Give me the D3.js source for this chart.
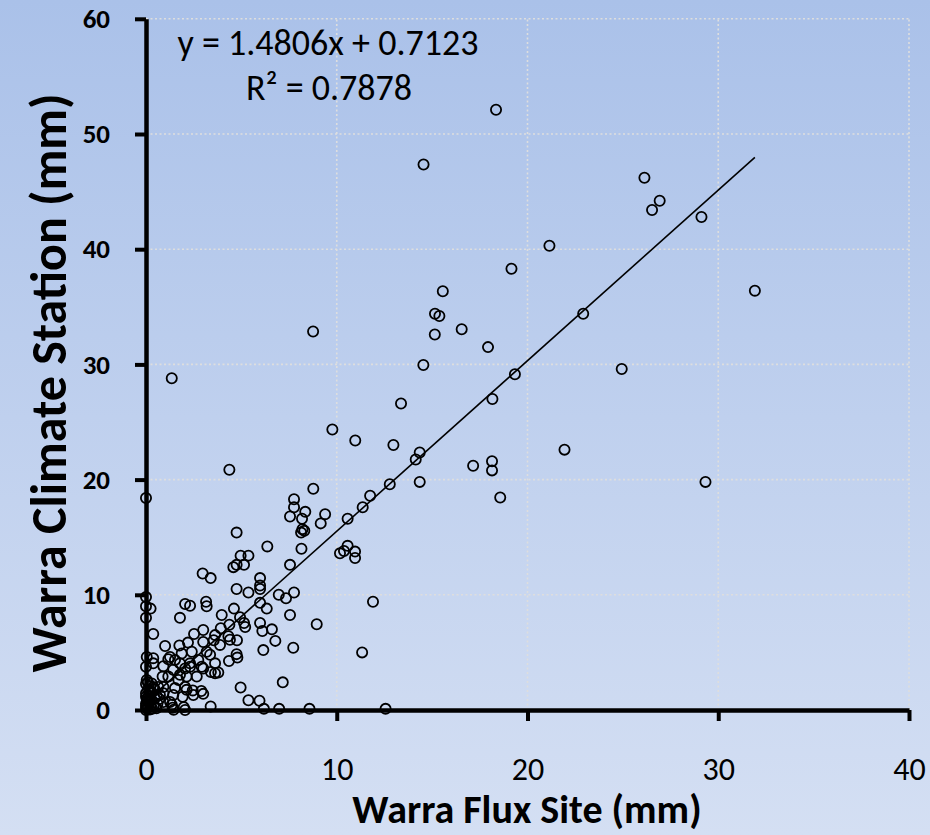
<!DOCTYPE html>
<html>
<head>
<meta charset="utf-8">
<script src="https://cdn.jsdelivr.net/npm/d3@7"></script>
<style>
  html, body { margin: 0; padding: 0; }
  body { width: 930px; height: 835px; overflow: hidden; }
  text { font-family: Carlito, Calibri, Lato, sans-serif; }
</style>
</head>
<body>
<svg id="chart" width="930" height="835"></svg>
<script>
// ---- Data ----
const titleText = "Daily";
const xAxisTitle = "Warra Flux Site (mm)";
const yAxisTitle = "Warra Climate Station (mm)";
const equationText = "y = 1.4806x + 0.7123";
const rSquaredText = "R\u00B2 = 0.7878";
const trendSlope = 1.4806;
const trendIntercept = 0.7123;
const xTicks = [0, 10, 20, 30, 40];
const yTicks = [0, 10, 20, 30, 40, 50, 60];

const fluxSite = [
  18.35, 14.55, 26.13, 26.93, 26.53, 29.12, 21.15, 19.16, 31.92, 15.56,
  15.15, 15.38, 22.92, 16.55, 8.76, 15.14, 17.93, 14.54, 24.94, 19.34,
  1.35, 18.16, 13.37, 9.77, 10.97, 12.97, 21.94, 14.35, 14.14, 17.15,
  18.14, 18.14, 4.37, 29.33, 14.35, 12.78, 8.77, 11.75, 18.57, 0.0,
  7.76, 7.76, 11.36, 8.35, 9.39, 7.55, 8.18, 10.57, 9.16, 8.2,
  8.3, 8.13, 4.75, 6.36, 10.57, 8.15, 10.38, 10.96, 10.17, 4.96,
  5.37, 10.96, 5.14, 4.75, 7.55, 4.58, 2.97, 3.39, 5.98, 5.98,
  5.98, 4.75, 5.37, 7.76, 6.96, 7.34, 0.0, 0.0, 0.24, 0.0,
  2.05, 2.31, 3.15, 3.18, 1.78, 4.61, 5.98, 6.33, 3.97, 4.93,
  7.55, 5.14, 5.2, 5.98, 6.1, 6.6, 8.95, 4.37, 3.0, 2.52,
  0.38, 7.72, 6.78, 6.15, 1.0, 4.32, 4.4, 4.77, 3.55, 3.0,
  2.2, 1.75, 3.18, 3.36, 4.75, 4.79, 4.35, 3.62, 3.79, 3.4,
  3.0, 2.74, 2.31, 2.05, 1.78, 1.52, 1.26, 1.17, 0.38, 0.38,
  0.91, 1.43, 1.78, 2.13, 2.66, 2.05, 2.13, 2.45, 1.92, 3.0,
  1.43, 0.91, 0.87, 0.73, 0.38, 4.96, 5.37, 5.95, 7.17, 1.35,
  1.4, 1.98, 3.39, 6.18, 6.98, 8.57, 12.56, 1.26, 0.91, 0.04,
  11.33, 11.9, 3.62, 3.88, 1.87, 2.4, 3.62, 2.92, 2.31, 0.04,
  0.0, 1.17, 1.7, 1.52, 2.9, 2.48, 0.91, 0.64, 1.45, 2.05,
  3.92, 0.0, 0.05, 0.1, 0.2, 0.25, 0.0, 0.12, 0.3, 0.05,
  0.15, 0.0, 0.3, 0.1, 0.22, 0.0, 0.4, 0.45, 0.55, 0.6,
  0.32, 0.0, 0.05, 0.2, 0.45, 0.1, 0.0, 0.3, 0.55, 0.7,
  0.02
];
const climateStation = [
  52.1, 47.35, 46.2, 44.2, 43.4, 42.8, 40.3, 38.3, 36.4, 36.35,
  34.4, 34.2, 34.4, 33.05, 32.85, 32.6, 31.5, 29.95, 29.6, 29.15,
  28.8, 27.0, 26.6, 24.35, 23.4, 23.0, 22.6, 22.35, 21.75, 21.2,
  21.6, 20.8, 20.85, 19.8, 19.8, 19.6, 19.2, 18.6, 18.45, 18.4,
  18.3, 17.6, 17.6, 17.2, 17.0, 16.8, 16.6, 16.6, 16.2, 15.7,
  15.55, 15.4, 15.4, 14.2, 14.25, 14.0, 13.8, 13.75, 13.6, 13.4,
  13.4, 13.2, 12.6, 12.6, 12.6, 12.4, 11.85, 11.45, 11.45, 10.8,
  10.5, 10.5, 10.2, 10.2, 10.0, 9.7, 9.8, 9.0, 8.8, 8.0,
  9.2, 9.05, 9.4, 9.0, 8.0, 8.8, 9.3, 8.8, 8.25, 8.05,
  8.25, 7.55, 7.2, 7.55, 6.85, 7.0, 7.45, 7.4, 6.95, 6.6,
  6.6, 5.4, 6.0, 5.2, 5.55, 6.4, 6.1, 6.05, 6.05, 5.9,
  5.85, 5.6, 5.05, 4.8, 4.85, 4.55, 4.25, 3.2, 3.25, 3.3,
  3.6, 4.35, 3.75, 3.6, 4.05, 4.35, 4.6, 4.4, 4.5, 4.05,
  3.8, 3.5, 3.05, 2.9, 2.9, 2.0, 1.75, 1.7, 1.15, 1.4,
  1.3, 2.0, 2.9, 1.3, 2.0, 1.95, 0.85, 0.8, 2.4, 0.45,
  0.2, 0.25, 0.3, 0.1, 0.1, 0.1, 0.1, 0.7, 0.7, 2.6,
  5.0, 9.4, 6.5, 5.65, 4.9, 5.05, 4.05, 3.75, 4.05, 4.6,
  3.75, 2.9, 2.6, 1.9, 1.65, 1.3, 1.45, 2.0, 0.02, 0.0,
  7.1, 0.0, 0.1, 0.25, 0.05, 0.4, 0.55, 0.7, 0.85, 1.0,
  1.2, 1.45, 1.55, 1.75, 2.05, 2.25, 0.35, 1.0, 0.15, 0.55,
  0.1, 0.25, 0.8, 1.6, 1.8, 2.4, 1.15, 2.3, 1.25, 0.95,
  0.4
];

// ---- Layout ----
const W = 930, H = 835;
const svg = d3.select("#chart");
const x = d3.scaleLinear().domain([0, 40]).range([146, 909]);
const y = d3.scaleLinear().domain([0, 60]).range([710, 18.8]);

// background gradient
const defs = svg.append("defs");
const grad = defs.append("linearGradient").attr("id", "bg")
  .attr("x1", 0).attr("y1", 0).attr("x2", 0).attr("y2", 1);
grad.append("stop").attr("offset", "0%").attr("stop-color", "#aac1e9");
grad.append("stop").attr("offset", "100%").attr("stop-color", "#d4dff3");
svg.append("rect").attr("width", W).attr("height", H).attr("fill", "url(#bg)");

// title (mostly above the visible area, as in the reference)
svg.append("text")
  .attr("x", 465).attr("y", -6)
  .attr("text-anchor", "middle")
  .attr("font-size", 40).attr("font-weight", "bold")
  .attr("fill", "#000")
  .text(titleText);

// gridlines
const grid = svg.append("g").attr("class", "grid");
grid.selectAll("line.h").data(yTicks.filter(d => d > 0)).join("line")
  .attr("x1", x(0)).attr("x2", x(40))
  .attr("y1", d => y(d)).attr("y2", d => y(d))
  .attr("stroke", "#dedede").attr("stroke-width", 1.6)
  .attr("stroke-dasharray", "2,2.5");
grid.selectAll("line.v").data(xTicks.filter(d => d > 0)).join("line")
  .attr("y1", y(0)).attr("y2", y(60))
  .attr("x1", d => x(d)).attr("x2", d => x(d))
  .attr("stroke", "#dedede").attr("stroke-width", 1.6)
  .attr("stroke-dasharray", "2,2.5");

// axes
const xAxis = d3.axisBottom(x).tickValues(xTicks).tickSize(11).tickSizeOuter(0).tickPadding(36);
const yAxis = d3.axisLeft(y).tickValues(yTicks).tickSize(11).tickSizeOuter(0).tickPadding(25);

const gx = svg.append("g").attr("transform", `translate(0,${y(0)})`).call(xAxis);
gx.select(".domain").attr("stroke", "#000").attr("stroke-width", 4.5);
gx.selectAll(".tick line").attr("stroke", "#000").attr("stroke-width", 4);
gx.selectAll(".tick text").attr("font-size", 32).attr("fill", "#000")
  .attr("font-family", "Carlito, Calibri, Lato, sans-serif");

const gy = svg.append("g").attr("transform", `translate(${x(0)},0)`).call(yAxis);
gy.select(".domain").attr("stroke", "#000").attr("stroke-width", 4.5);
gy.selectAll(".tick line").attr("stroke", "#000").attr("stroke-width", 4);
gy.selectAll(".tick text").attr("font-size", 27).attr("font-weight", "bold").attr("fill", "#000")
  .attr("font-family", "Carlito, Calibri, Lato, sans-serif");

// points
const pts = fluxSite.map((v, i) => ({ fx: v, cs: climateStation[i] }));
svg.append("g").selectAll("circle").data(pts).join("circle")
  .attr("cx", d => x(d.fx)).attr("cy", d => y(d.cs))
  .attr("r", 5.1)
  .attr("fill", "none").attr("stroke", "#000").attr("stroke-width", 1.8);

// linear trend line from min to max x
const xMin = d3.min(fluxSite), xMax = d3.max(fluxSite);
svg.append("line")
  .attr("x1", x(xMin)).attr("y1", y(trendSlope * xMin + trendIntercept))
  .attr("x2", x(xMax)).attr("y2", y(trendSlope * xMax + trendIntercept))
  .attr("stroke", "#000").attr("stroke-width", 1.6);

// equation labels
svg.append("text").attr("x", 328).attr("y", 55).attr("text-anchor", "middle")
  .attr("font-size", 36).attr("fill", "#000").text(equationText);
svg.append("text").attr("x", 329).attr("y", 100).attr("text-anchor", "middle")
  .attr("font-size", 36).attr("fill", "#000").text(rSquaredText);

// axis titles
svg.append("text").attr("x", 527).attr("y", 823).attr("text-anchor", "middle")
  .attr("font-size", 40).attr("font-weight", "bold").attr("fill", "#000")
  .text(xAxisTitle);
svg.append("text")
  .attr("transform", "translate(66,383) rotate(-90)")
  .attr("text-anchor", "middle")
  .attr("font-size", 50).attr("font-weight", "bold").attr("fill", "#000")
  .text(yAxisTitle);
</script>
</body>
</html>
